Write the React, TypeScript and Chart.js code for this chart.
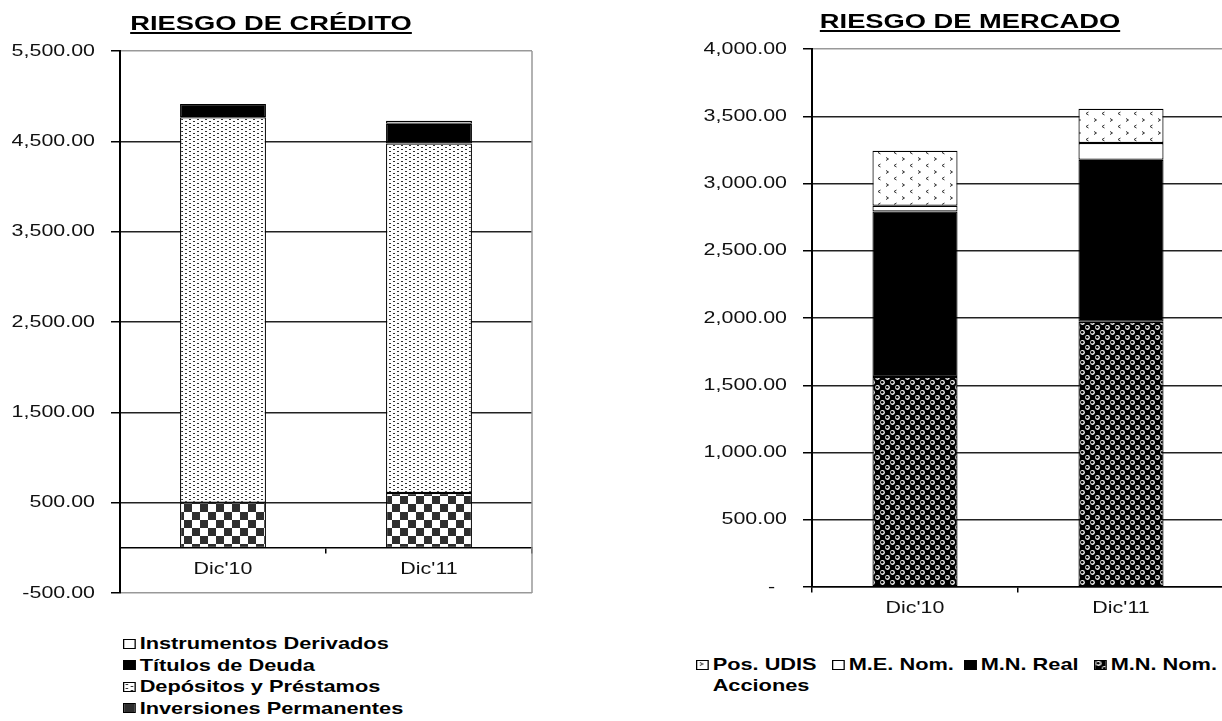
import React, { useEffect, useMemo, useRef } from 'react';
import { Chart, registerables } from 'chart.js';

Chart.register(...registerables);

// ---------- data ----------
const categories = ["Dic'10", "Dic'11"];

const creditoTitle = 'RIESGO DE CRÉDITO';
const inversionesPermanentes = [500, 607];
const depositosPrestamos = [4267, 3868];
const titulosDeuda = [147, 220];
const instrumentosDerivados = [0, 32];
const creditoTicks = [-500, 500, 1500, 2500, 3500, 4500, 5500];
const creditoLegend = ['Instrumentos Derivados', 'Títulos de Deuda', 'Depósitos y Préstamos', 'Inversiones Permanentes'];

const mercadoTitle = 'RIESGO DE MERCADO';
const acciones = [0, 0];
const mnNom = [1562, 1972];
const mnReal = [1230, 1205];
const meNom = [43, 124];
const posUdis = [409, 255];
const mercadoTicks = [0, 500, 1000, 1500, 2000, 2500, 3000, 3500, 4000];
const mercadoLegend = ['Pos. UDIS', 'M.E. Nom.', 'M.N. Real', 'M.N. Nom.', 'Acciones'];

// ---------- styling ----------
const SX = 1.26;
const LEG_SX = 1.28;
const FAMILY = '"Liberation Sans", Arial, sans-serif';
const TICK_FONT = `17px ${FAMILY}`;

function makeTile(w: number, h: number, draw: (g: CanvasRenderingContext2D) => void) {
  const c = document.createElement('canvas');
  c.width = w;
  c.height = h;
  const g = c.getContext('2d')!;
  draw(g);
  return c;
}

function buildTiles() {
  const checker = makeTile(16, 16, (g) => {
    g.fillStyle = '#fff';
    g.fillRect(0, 0, 16, 16);
    g.fillStyle = '#2e2e2e';
    g.fillRect(0, 0, 8, 8);
    g.fillRect(8, 8, 8, 8);
  });
  const dots = makeTile(8, 4, (g) => {
    g.fillStyle = '#fff';
    g.fillRect(0, 0, 8, 4);
    g.fillStyle = '#333';
    g.fillRect(1, 1, 2, 1);
    g.fillRect(5, 3, 2, 1);
  });
  const spheres = makeTile(10, 10, (g) => {
    g.fillStyle = '#000';
    g.fillRect(0, 0, 10, 10);
    g.fillStyle = '#fff';
    [[2.5, 2.5], [7.5, 7.5]].forEach(([x, y]) => {
      g.beginPath();
      g.arc(x, y, 2.4, 0, Math.PI * 2);
      g.fill();
    });
    g.fillStyle = '#000';
    [[2.2, 2.2], [7.2, 7.2]].forEach(([x, y]) => {
      g.beginPath();
      g.arc(x, y, 1.3, 0, Math.PI * 2);
      g.fill();
    });
  });
  const chevrons = makeTile(16, 13, (g) => {
    g.fillStyle = '#fff';
    g.fillRect(0, 0, 16, 13);
    g.strokeStyle = '#333';
    g.lineWidth = 1;
    g.beginPath();
    g.moveTo(2, 1.5);
    g.lineTo(4.5, 3);
    g.lineTo(2, 4.5);
    g.moveTo(12.5, 8);
    g.lineTo(10, 9.5);
    g.lineTo(12.5, 11);
    g.stroke();
  });
  return { checker, dots, spheres, chevrons };
}

function fmt(v: number) {
  return v.toLocaleString('en-US', { minimumFractionDigits: 2, maximumFractionDigits: 2 });
}

const labelPlugin = {
  id: 'stretchLabels',
  afterDraw(chart: any) {
    const { ctx, chartArea } = chart;
    const ys = chart.scales.y;
    const xs = chart.scales.x;
    ctx.save();
    ctx.font = TICK_FONT;
    ctx.fillStyle = '#111';
    const digitW = ctx.measureText('0').width * SX;
    ctx.textAlign = 'right';
    ctx.textBaseline = 'middle';
    ys.ticks.forEach((t: any) => {
      const py = ys.getPixelForValue(t.value);
      const zero = t.value === 0;
      ctx.save();
      ctx.translate(chartArea.left - 25 - (zero ? digitW : 0), py);
      ctx.scale(SX, 1);
      ctx.fillText(zero ? '-' : fmt(t.value), 0, 0);
      ctx.restore();
    });
    const axisY = ys.getPixelForValue(0);
    ctx.textAlign = 'center';
    ctx.textBaseline = 'alphabetic';
    (chart.data.labels as string[]).forEach((lab, i) => {
      ctx.save();
      ctx.translate(xs.getPixelForValue(i), axisY + 26);
      ctx.scale(SX, 1);
      ctx.fillText(lab, 0, 0);
      ctx.restore();
    });
    ctx.restore();
  },
};

const framePlugin = {
  id: 'frameRight',
  beforeDatasetsDraw(chart: any) {
    const { ctx, chartArea } = chart;
    ctx.save();
    ctx.strokeStyle = '#999';
    ctx.lineWidth = 1.5;
    ctx.beginPath();
    ctx.moveTo(chartArea.right, chartArea.top);
    ctx.lineTo(chartArea.right, chartArea.bottom);
    ctx.stroke();
    ctx.restore();
  },
};

function ds(label: string, data: number[], bg: any, border = 1.2) {
  return {
    label,
    data,
    backgroundColor: bg,
    borderColor: '#000',
    borderWidth: border,
    borderSkipped: false as any,
  };
}

function makeOptions(min: number, max: number, ticks: number[], yWidth: number, padding: any, barPct: number) {
  return {
    responsive: false,
    animation: false as const,
    devicePixelRatio: 1,
    events: [] as any[],
    layout: { padding },
    plugins: { legend: { display: false }, tooltip: { enabled: false } },
    datasets: { bar: { categoryPercentage: 1, barPercentage: barPct } },
    scales: {
      x: {
        type: 'category' as const,
        stacked: true,
        position: { y: 0 } as any,
        offset: true,
        ticks: { display: false },
        grid: { drawOnChartArea: false, tickLength: 5, color: '#000', lineWidth: 1.5 },
        border: { display: true, color: '#000', width: 1.5 },
        afterFit: (s: any) => {
          s.height = 0;
        },
      },
      y: {
        stacked: true,
        min,
        max,
        afterBuildTicks: (s: any) => {
          s.ticks = ticks.map((v) => ({ value: v }));
        },
        ticks: { display: false },
        grid: {
          color: (c: any) => {
            const v = c.tick ? c.tick.value : null;
            if (v === max || (v === min && min !== 0)) return '#999';
            return '#222';
          },
          lineWidth: 1.5,
          tickLength: 9,
          tickColor: '#000',
          tickWidth: 1.5,
        },
        border: { display: true, color: '#000', width: 2 },
        afterFit: (s: any) => {
          s.width = yWidth;
        },
      },
    },
  };
}

function Swatch({ bg, none }: { bg: string; none?: boolean }) {
  return (
    <span
      style={{
        display: 'inline-block',
        width: 10,
        height: 10,
        boxSizing: 'border-box',
        border: none ? 'none' : '1px solid #000',
        background: none ? 'transparent' : bg,
        marginRight: 3,
        verticalAlign: 'middle',
        position: 'relative',
        top: -1,
      }}
    />
  );
}

export default function App() {
  const leftRef = useRef<HTMLCanvasElement>(null);
  const rightRef = useRef<HTMLCanvasElement>(null);
  const tiles = useMemo(() => buildTiles(), []);
  const urls = useMemo(
    () => ({
      checker: `url(${tiles.checker.toDataURL()})`,
      dots: `url(${tiles.dots.toDataURL()})`,
      spheres: `url(${tiles.spheres.toDataURL()})`,
      chevrons: `url(${tiles.chevrons.toDataURL()})`,
    }),
    [tiles]
  );

  useEffect(() => {
    const pc = document.createElement('canvas').getContext('2d')!;
    const pCheck = pc.createPattern(tiles.checker, 'repeat');
    const pDots = pc.createPattern(tiles.dots, 'repeat');
    const pSph = pc.createPattern(tiles.spheres, 'repeat');
    const pChev = pc.createPattern(tiles.chevrons, 'repeat');

    const c1 = new Chart(leftRef.current!, {
      type: 'bar',
      data: {
        labels: categories,
        datasets: [
          ds(creditoLegend[3], inversionesPermanentes, pCheck),
          ds(creditoLegend[2], depositosPrestamos, pDots),
          ds(creditoLegend[1], titulosDeuda, '#000'),
          ds(creditoLegend[0], instrumentosDerivados, '#fff'),
        ],
      },
      options: makeOptions(-500, 5500, creditoTicks, 120, { top: 51, right: 28, bottom: 7, left: 0 }, 0.417) as any,
      plugins: [framePlugin, labelPlugin],
    });

    const c2 = new Chart(rightRef.current!, {
      type: 'bar',
      data: {
        labels: categories,
        datasets: [
          ds(mercadoLegend[4], acciones, 'rgba(0,0,0,0)', 0),
          ds(mercadoLegend[3], mnNom, pSph),
          ds(mercadoLegend[2], mnReal, '#000'),
          ds(mercadoLegend[1], meNom, '#fff'),
          ds(mercadoLegend[0], posUdis, pChev),
        ],
      },
      options: makeOptions(0, 4000, mercadoTicks, 152, { top: 49, right: 36, bottom: 43, left: 0 }, 0.413) as any,
      plugins: [framePlugin, labelPlugin],
    });

    return () => {
      c1.destroy();
      c2.destroy();
    };
  }, [tiles]);

  const leftSwatches = ['#fff', '#000', urls.dots, urls.checker];
  const rightItems = [
    { left: 696, top: 654, bg: urls.chevrons },
    { left: 832, top: 654, bg: '#fff' },
    { left: 964, top: 654, bg: '#000' },
    { left: 1094, top: 654, bg: urls.spheres },
    { left: 696, top: 675, bg: '', none: true },
  ];

  const legendText: React.CSSProperties = {
    font: `bold 17px ${FAMILY}`,
    color: '#000',
    whiteSpace: 'nowrap',
  };

  const titleStyle = (cx: number, top: number): React.CSSProperties => ({
    position: 'absolute',
    left: cx - 300,
    top,
    width: 600,
    textAlign: 'center',
    font: `bold 21px ${FAMILY}`,
    lineHeight: '21px',
    color: '#000',
    transform: `scaleX(1.3)`,
    transformOrigin: 'center',
    textDecoration: 'underline',
    textDecorationThickness: '2px',
    textUnderlineOffset: '2px',
  });

  return (
    <div
      style={{
        position: 'fixed',
        left: 0,
        top: 0,
        width: 1222,
        height: 721,
        overflow: 'hidden',
        background: '#fff',
      }}
    >
      <canvas
        ref={leftRef}
        width={560}
        height={600}
        style={{ position: 'absolute', left: 0, top: 0, width: 560, height: 600 }}
      />
      <canvas
        ref={rightRef}
        width={600}
        height={630}
        style={{ position: 'absolute', left: 660, top: 0, width: 600, height: 630 }}
      />
      <div style={titleStyle(271, 12)}>{creditoTitle}</div>
      <div style={titleStyle(969.5, 10)}>{mercadoTitle}</div>

      <div
        style={{
          position: 'absolute',
          left: 123,
          top: 633,
          transform: `scaleX(${LEG_SX})`,
          transformOrigin: 'left top',
        }}
      >
        {creditoLegend.map((name) => null)}
        {creditoLegend.map((name, i) => (
          <div key={name} style={{ ...legendText, height: 21.5, lineHeight: '21.5px' }}>
            <Swatch bg={leftSwatches[i]} />
            {name}
          </div>
        ))}
      </div>

      {mercadoLegend.map((name, i) => (
        <div
          key={name}
          style={{
            ...legendText,
            position: 'absolute',
            left: rightItems[i].left,
            top: rightItems[i].top,
            height: 21,
            lineHeight: '21px',
            transform: `scaleX(${LEG_SX})`,
            transformOrigin: 'left top',
          }}
        >
          <Swatch bg={rightItems[i].bg} none={rightItems[i].none} />
          {name}
        </div>
      ))}
    </div>
  );
}
